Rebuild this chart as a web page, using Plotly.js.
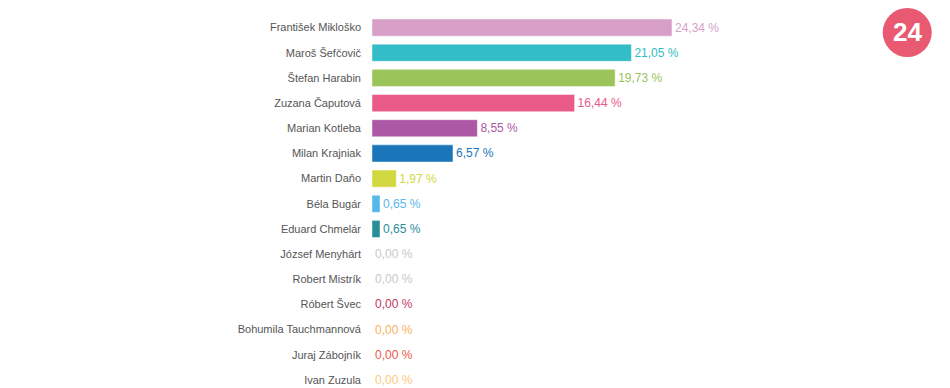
<!DOCTYPE html>
<html>
<head>
<meta charset="utf-8">
<script src="https://cdn.plot.ly/plotly-3.0.1.min.js"></script>
<style>html,body{margin:0;padding:0;background:#fff;}#chart{width:950px;height:388px;}</style>
</head>
<body>
<div id="chart"></div>
<script>
const candidates = ["František Mikloško","Maroš Šefčovič","Štefan Harabin","Zuzana Čaputová","Marian Kotleba","Milan Krajniak","Martin Daňo","Béla Bugár","Eduard Chmelár","József Menyhárt","Robert Mistrík","Róbert Švec","Bohumila Tauchmannová","Juraj Zábojník","Ivan Zuzula"];
const percents = [24.34,21.05,19.73,16.44,8.55,6.57,1.97,0.65,0.65,0.00,0.00,0.00,0.00,0.00,0.00];
const colors = ["#d79fc8","#33bdc7","#9bc45a","#ea5a86","#ad58a4","#1b75bb","#d2d840","#56b8ea","#2a8e99","#c8c8c8","#c8c8c8","#c0395e","#f8b25e","#e8594e","#fcca80"];

const trace = {
  type: "bar",
  orientation: "h",
  y: candidates,
  x: percents,
  width: 0.68,
  marker: {color: colors, line: {color: "rgba(255,255,255,0.45)", width: 1}},
  text: percents.map(v => v.toFixed(2).replace(".", ",") + " %"),
  textposition: "outside",
  cliponaxis: false,
  textfont: {color: colors, size: 12, family: "Liberation Sans, Arial, sans-serif"},
  hoverinfo: "none"
};

const layout = {
  width: 950, height: 388,
  margin: {l: 372, r: 0, t: 15, b: 0},
  paper_bgcolor: "#fff", plot_bgcolor: "#fff",
  showlegend: false,
  font: {family: "Liberation Sans, Arial, sans-serif"},
  xaxis: {range: [0, 46.9], visible: false, fixedrange: true},
  yaxis: {
    type: "category",
    range: [14.32, -0.5],
    showgrid: false, zeroline: false, showline: false,
    ticks: "", ticklabelstandoff: 10,
    tickfont: {size: 11, color: "#555", family: "Liberation Sans, Arial, sans-serif"}
  },
  shapes: [{
    type: "circle", xref: "paper", yref: "paper",
    xsizemode: "pixel", ysizemode: "pixel",
    xanchor: 0.926, yanchor: 0.9531,
    x0: -24.5, x1: 24.5, y0: -24.5, y1: 24.5,
    fillcolor: "#e95a72", line: {width: 0}
  }],
  annotations: [{
    xref: "paper", yref: "paper", x: 0.926, y: 0.9531,
    text: "<b>24</b>", showarrow: false,
    font: {size: 26, color: "#fff", family: "Liberation Sans, Arial, sans-serif"},
    xanchor: "center", yanchor: "middle"
  }]
};

Plotly.newPlot("chart", [trace], layout, {displayModeBar: false, staticPlot: true});
</script>
</body>
</html>
